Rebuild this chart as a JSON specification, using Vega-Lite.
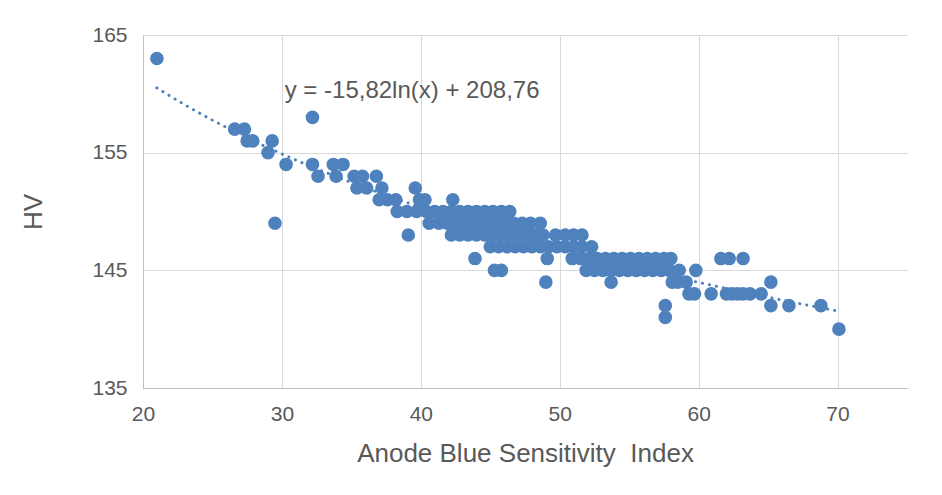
{
  "$schema": "https://vega.github.io/schema/vega-lite/v6.json",
  "width": 764,
  "height": 353,
  "autosize": "none",
  "padding": {"left": 143, "top": 35, "right": 35, "bottom": 107},
  "background": "white",
  "config": {
    "view": {"stroke": null},
    "font": "Liberation Sans",
    "axis": {
      "gridColor": "#d9d9d9",
      "gridWidth": 1,
      "domainColor": "#bfbfbf",
      "domainWidth": 1,
      "ticks": false,
      "labelFlush": false,
      "labelColor": "#595959",
      "labelFontSize": 21,
      "titleColor": "#595959",
      "titleFontSize": 26,
      "titleFontWeight": "normal"
    }
  },
  "datasets": {
    "pts": [
      {"x": 21.0, "y": 163},
      {"x": 32.2, "y": 158},
      {"x": 26.6, "y": 157}, {"x": 27.3, "y": 157},
      {"x": 27.5, "y": 156}, {"x": 27.9, "y": 156}, {"x": 29.3, "y": 156},
      {"x": 29.0, "y": 155},
      {"x": 30.3, "y": 154}, {"x": 32.2, "y": 154}, {"x": 33.7, "y": 154}, {"x": 34.4, "y": 154},
      {"x": 32.6, "y": 153}, {"x": 33.9, "y": 153}, {"x": 35.2, "y": 153}, {"x": 35.8, "y": 153}, {"x": 36.8, "y": 153},
      {"x": 35.4, "y": 152}, {"x": 36.1, "y": 152}, {"x": 37.2, "y": 152}, {"x": 39.6, "y": 152},
      {"x": 37.0, "y": 151}, {"x": 37.6, "y": 151}, {"x": 38.2, "y": 151}, {"x": 39.9, "y": 151}, {"x": 40.3, "y": 151}, {"x": 42.3, "y": 151},
      {"x": 38.3, "y": 150}, {"x": 39.0, "y": 150}, {"x": 39.7, "y": 150}, {"x": 40.4, "y": 150}, {"x": 41.0, "y": 150},
      {"x": 41.6, "y": 150}, {"x": 42.2, "y": 150}, {"x": 42.8, "y": 150}, {"x": 43.4, "y": 150}, {"x": 44.0, "y": 150},
      {"x": 44.6, "y": 150}, {"x": 45.2, "y": 150}, {"x": 45.8, "y": 150}, {"x": 46.4, "y": 150},
      {"x": 29.5, "y": 149}, {"x": 40.6, "y": 149}, {"x": 41.3, "y": 149}, {"x": 41.9, "y": 149}, {"x": 42.5, "y": 149},
      {"x": 43.1, "y": 149}, {"x": 43.7, "y": 149}, {"x": 44.3, "y": 149}, {"x": 44.9, "y": 149}, {"x": 45.5, "y": 149},
      {"x": 46.1, "y": 149}, {"x": 46.7, "y": 149}, {"x": 47.3, "y": 149}, {"x": 47.9, "y": 149}, {"x": 48.6, "y": 149},
      {"x": 39.1, "y": 148}, {"x": 42.2, "y": 148}, {"x": 42.8, "y": 148}, {"x": 43.4, "y": 148}, {"x": 44.0, "y": 148},
      {"x": 44.6, "y": 148}, {"x": 45.2, "y": 148}, {"x": 45.8, "y": 148}, {"x": 46.4, "y": 148}, {"x": 47.0, "y": 148},
      {"x": 47.6, "y": 148}, {"x": 48.2, "y": 148}, {"x": 48.8, "y": 148}, {"x": 49.7, "y": 148}, {"x": 50.4, "y": 148},
      {"x": 51.0, "y": 148}, {"x": 51.6, "y": 148},
      {"x": 45.0, "y": 147}, {"x": 45.6, "y": 147}, {"x": 46.2, "y": 147}, {"x": 46.8, "y": 147}, {"x": 47.4, "y": 147},
      {"x": 48.0, "y": 147}, {"x": 48.6, "y": 147}, {"x": 49.2, "y": 147}, {"x": 49.8, "y": 147}, {"x": 50.4, "y": 147},
      {"x": 51.0, "y": 147}, {"x": 51.6, "y": 147}, {"x": 52.3, "y": 147},
      {"x": 43.9, "y": 146}, {"x": 49.1, "y": 146}, {"x": 50.9, "y": 146}, {"x": 51.5, "y": 146}, {"x": 52.1, "y": 146},
      {"x": 52.7, "y": 146}, {"x": 53.3, "y": 146}, {"x": 53.9, "y": 146}, {"x": 54.5, "y": 146}, {"x": 55.1, "y": 146},
      {"x": 55.7, "y": 146}, {"x": 56.3, "y": 146}, {"x": 56.9, "y": 146}, {"x": 57.5, "y": 146}, {"x": 58.0, "y": 146},
      {"x": 61.6, "y": 146}, {"x": 62.2, "y": 146}, {"x": 63.2, "y": 146},
      {"x": 45.3, "y": 145}, {"x": 45.8, "y": 145}, {"x": 51.9, "y": 145}, {"x": 52.5, "y": 145}, {"x": 53.1, "y": 145},
      {"x": 53.7, "y": 145}, {"x": 54.3, "y": 145}, {"x": 54.9, "y": 145}, {"x": 55.5, "y": 145}, {"x": 56.1, "y": 145},
      {"x": 56.7, "y": 145}, {"x": 57.3, "y": 145}, {"x": 57.9, "y": 145}, {"x": 58.6, "y": 145}, {"x": 59.8, "y": 145},
      {"x": 49.0, "y": 144}, {"x": 53.7, "y": 144}, {"x": 58.1, "y": 144}, {"x": 58.5, "y": 144}, {"x": 59.1, "y": 144},
      {"x": 65.2, "y": 144},
      {"x": 59.3, "y": 143}, {"x": 59.7, "y": 143}, {"x": 60.9, "y": 143}, {"x": 62.0, "y": 143}, {"x": 62.4, "y": 143},
      {"x": 62.8, "y": 143}, {"x": 63.2, "y": 143}, {"x": 63.7, "y": 143}, {"x": 64.5, "y": 143},
      {"x": 57.6, "y": 142}, {"x": 65.2, "y": 142}, {"x": 66.5, "y": 142}, {"x": 68.8, "y": 142},
      {"x": 57.6, "y": 141},
      {"x": 70.1, "y": 140}
    ],
    "eq": [{"x": 30.2, "y": 160.2, "label": "y = -15,82ln(x) + 208,76"}]
  },
  "layer": [
    {
      "data": {"name": "pts"},
      "mark": {"type": "point", "shape": "circle", "filled": true, "opacity": 1, "size": 185, "color": "#4f81bd"},
      "encoding": {
        "x": {
          "field": "x", "type": "quantitative",
          "scale": {"domain": [20, 75], "nice": false, "zero": false},
          "axis": {"values": [20, 30, 40, 50, 60, 70], "title": "Anode Blue Sensitivity\u00a0 Index", "labelPadding": 15, "titlePadding": 16}
        },
        "y": {
          "field": "y", "type": "quantitative",
          "scale": {"domain": [135, 165], "nice": false, "zero": false},
          "axis": {"values": [135, 145, 155, 165], "title": "HV", "labelPadding": 16, "titlePadding": 45}
        }
      }
    },
    {
      "data": {"name": "pts"},
      "transform": [{"regression": "y", "on": "x", "method": "log"}],
      "mark": {"type": "line", "strokeDash": [0.1, 7], "strokeCap": "round", "strokeWidth": 3, "color": "#4f81bd"},
      "encoding": {
        "x": {"field": "x", "type": "quantitative"},
        "y": {"field": "y", "type": "quantitative"}
      }
    },
    {
      "data": {"name": "eq"},
      "mark": {"type": "text", "align": "left", "baseline": "middle", "fontSize": 24, "color": "#595959"},
      "encoding": {
        "x": {"field": "x", "type": "quantitative"},
        "y": {"field": "y", "type": "quantitative"},
        "text": {"field": "label"}
      }
    }
  ]
}
